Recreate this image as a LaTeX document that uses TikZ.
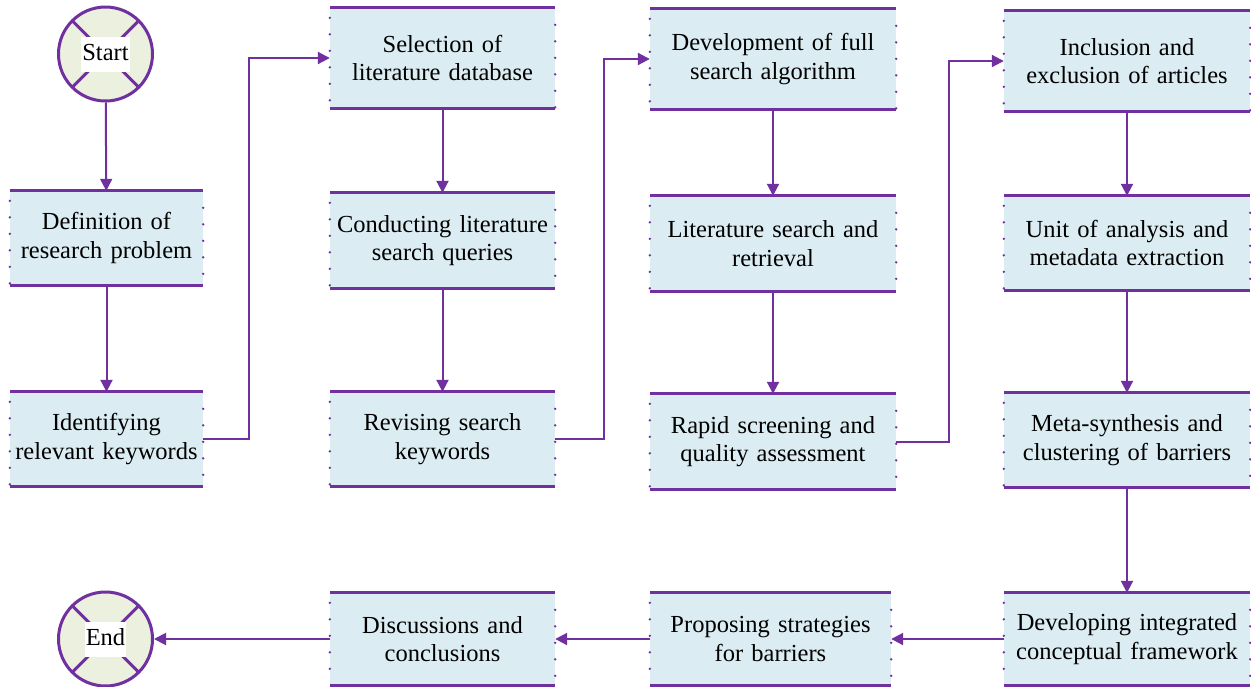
\documentclass[tikz,border=0pt]{standalone}
\usepackage{fontspec}
\setmainfont{Liberation Serif}
\usetikzlibrary{arrows.meta}
\definecolor{flowpurple}{HTML}{7030A0}
\definecolor{boxfill}{HTML}{DBECF2}
\definecolor{termfill}{HTML}{EBF1DE}
\tikzset{
  stepbox/.style={fill=boxfill, inner xsep=1pt, inner ysep=0pt, align=center,
    font=\fontsize{24.5}{28.5}\selectfont},
  edgerule/.style={draw=flowpurple, line width=3pt},
  sidedots/.style={draw=flowpurple, line width=2.6pt, line cap=round,
    dash pattern=on 0pt off 16.5pt},
  terminal/.style={circle, draw=flowpurple, line width=3pt, fill=termfill,
    minimum size=94pt, inner sep=0pt},
  termlabel/.style={fill=white, inner xsep=1pt, inner ysep=5pt,
    text height=19pt, text depth=6pt,
    font=\fontsize{24.5}{28.5}\selectfont},
  flow/.style={draw=flowpurple, line width=2pt,
    -{Triangle[length=12pt,width=12pt]}},
}
% name, centre, width, height, text
\newcommand\flowbox[5]{%
  \node[stepbox, minimum width=#3, minimum height=#4, text width=#3-2pt] (#1) at #2 {#5};
  \draw[sidedots] ([yshift=-10pt]#1.north west) -- (#1.south west);
  \draw[sidedots] ([yshift=-17pt]#1.north east) -- (#1.south east);
  \draw[edgerule] (#1.north west) -- (#1.north east);
  \draw[edgerule] (#1.south west) -- (#1.south east);
}
% name, centre, label
\newcommand\terminalnode[3]{%
  \node[terminal] (#1) at #2 {};
  \begin{scope}
    \clip (#1.center) circle (46pt);
    \draw[draw=flowpurple, line width=3pt] (#1.45) -- (#1.225);
    \draw[draw=flowpurple, line width=3pt] (#1.135) -- (#1.315);
  \end{scope}
  \node[termlabel] at (#1.center) {#3};
}
\begin{document}
\begin{tikzpicture}[x=1pt, y=-1pt]
  \useasboundingbox (0,0) rectangle (1251,686);
  \fill[white] (0,0) rectangle (1251,686);

  % terminals
  \terminalnode{start}{(105.5,54)}{Start}
  \terminalnode{end}{(105.5,639)}{End}

  % first column
  \flowbox{def}{(106.5,238)}{193pt}{94pt}{Definition of\\research problem}
  \flowbox{ident}{(106.5,439)}{193pt}{94pt}{Identifying\\relevant keywords}

  % second column
  \flowbox{sel}{(442.5,58)}{225pt}{100pt}{Selection of\\literature database}
  \flowbox{cond}{(442.5,240.5)}{225pt}{95pt}{Conducting literature\\search queries}
  \flowbox{rev}{(442.5,439)}{225pt}{94pt}{Revising search\\keywords}

  % third column
  \flowbox{dev}{(773,59)}{246pt}{100pt}{Development of full\\search algorithm}
  \flowbox{lit}{(773,243.5)}{246pt}{95pt}{Literature search and\\retrieval}
  \flowbox{rap}{(773,441.5)}{246pt}{95pt}{Rapid screening and\\quality assessment}

  % fourth column
  \flowbox{inc}{(1127,61)}{246pt}{100pt}{Inclusion and\\exclusion of articles}
  \flowbox{unit}{(1127,243)}{246pt}{94pt}{Unit of analysis and\\metadata extraction}
  \flowbox{meta}{(1127,440)}{246pt}{94pt}{Meta-synthesis and\\clustering of barriers}

  % bottom row
  \flowbox{devint}{(1127,639)}{246pt}{92pt}{Developing integrated\\conceptual framework}
  \flowbox{prop}{(770.5,639)}{241pt}{92pt}{Proposing strategies\\for barriers}
  \flowbox{disc}{(442.5,639)}{225pt}{92pt}{Discussions and\\conclusions}

  % connectors
  \draw[flow] (start) -- (def);
  \draw[flow] (def) -- (ident);
  \draw[flow] (ident.east) -- ++(46,0) |- (sel.west);
  \draw[flow] (sel) -- (cond);
  \draw[flow] (cond) -- (rev);
  \draw[flow] (rev.east) -- ++(49,0) |- (dev.west);
  \draw[flow] (dev) -- (lit);
  \draw[flow] (lit) -- (rap);
  \draw[flow] (rap.east) -- ++(53,0) |- (inc.west);
  \draw[flow] (inc) -- (unit);
  \draw[flow] (unit) -- (meta);
  \draw[flow] (meta) -- (devint);
  \draw[flow] (devint) -- (prop);
  \draw[flow] (prop) -- (disc);
  \draw[flow] (disc) -- (end);
\end{tikzpicture}
\end{document}
